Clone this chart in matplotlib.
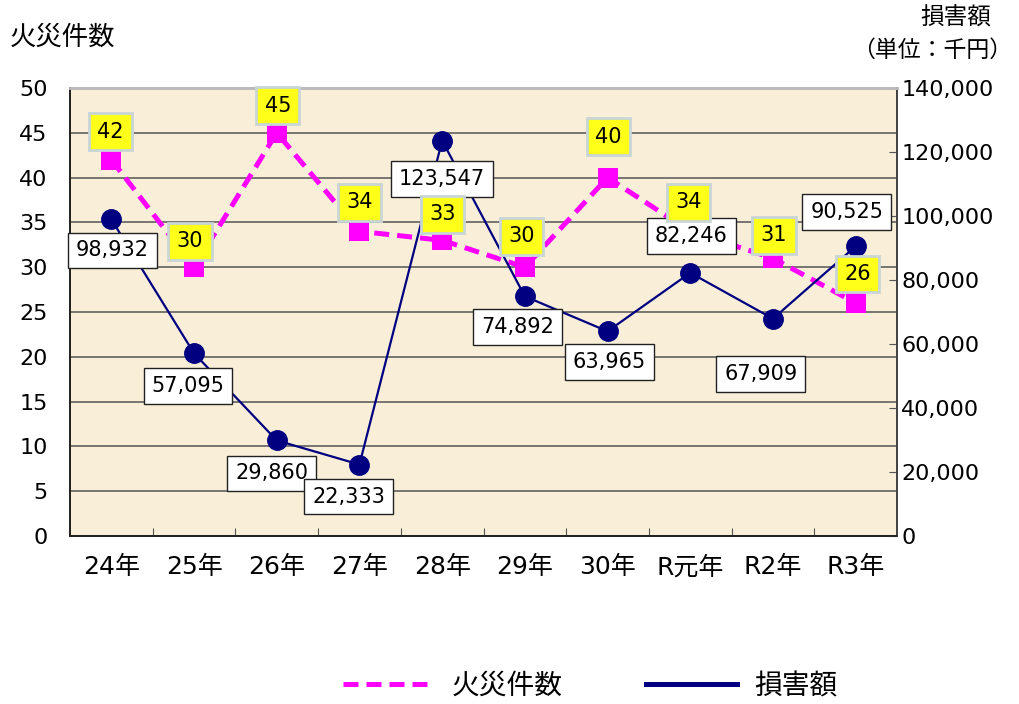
import matplotlib
matplotlib.use("Agg")
import matplotlib.pyplot as plt
from matplotlib.lines import Line2D
from matplotlib.ticker import FuncFormatter, MultipleLocator, FixedLocator

plt.rcParams['font.family'] = ['DejaVu Sans', 'Noto Sans CJK JP']

# data
years = ['24年', '25年', '26年', '27年', '28年', '29年', '30年', 'R元年', 'R2年', 'R3年']
fires = [42, 30, 45, 34, 33, 30, 40, 34, 31, 26]
damage = [98932, 57095, 29860, 22333, 123547, 74892, 63965, 82246, 67909, 90525]

# label offsets (pixels) relative to each marker
fire_off = [(-1, 28), (-4, 26), (1, 27), (0, 29), (0, 26), (-3, 31), (1, 41), (-2, 29), (1, 23), (2, 29)]
dmg_off = [(1, -31), (-6, -33), (-5, -33), (-11, -32), (0, -38), (-7, -31), (2, -31), (1, 37), (-12, -55), (-9, 34)]

magenta = '#FF00FF'
navy = '#000080'

fig = plt.figure(figsize=(10.2, 7.04), dpi=100)
ax = fig.add_axes([70 / 1020, 1 - 536 / 704, 827 / 1020, 448 / 704])
ax2 = ax.twinx()

x = list(range(len(years)))

ax.set_facecolor('#F9EFD9')
ax.set_xlim(-0.5, len(years) - 0.5)
ax.set_ylim(0, 50)
ax.yaxis.set_major_locator(MultipleLocator(5))
ax.grid(axis='y', color='#555555', linewidth=1.1)
ax.set_axisbelow(True)
ax.xaxis.set_major_locator(FixedLocator([i + 0.5 for i in x[:-1]]))
ax.set_xticklabels([])
ax.set_xticks(x, minor=True)
ax.set_xticklabels(years, minor=True)
ax.tick_params(axis='x', which='major', direction='in', length=6, color='#555555')
ax.tick_params(axis='x', which='minor', length=0, labelsize=18, pad=14)
ax.tick_params(axis='y', direction='in', length=0, labelsize=16, pad=16)

ax2.set_ylim(0, 140000)
ax2.yaxis.set_major_locator(MultipleLocator(20000))
ax2.yaxis.set_major_formatter(FuncFormatter(lambda v, p: f'{int(v):,}'))
ax2.tick_params(axis='y', direction='in', length=6, color='#555555', labelsize=16, pad=3)

for a in (ax, ax2):
    a.spines['top'].set_color('#BBBBBB')
    a.spines['top'].set_linewidth(2)
    a.spines['left'].set_color('#222222')
    a.spines['bottom'].set_color('#222222')
    a.spines['right'].set_color('#444444')
    a.spines['left'].set_linewidth(1.3)
    a.spines['bottom'].set_linewidth(1.3)
    a.spines['right'].set_linewidth(1.3)

dash = (0, (3, 1.6))
ax.plot(x, fires, color=magenta, linewidth=3.6, linestyle=dash, marker='s',
        markersize=14, markeredgewidth=0, zorder=3)
ax2.plot(x, damage, color=navy, linewidth=1.6, marker='o', markersize=14, zorder=3)

for i, v in enumerate(damage):
    ax2.annotate(f'{v:,}', (i, v), xytext=dmg_off[i], textcoords='offset pixels',
                 ha='center', va='center', fontsize=15, zorder=5,
                 bbox=dict(boxstyle='square,pad=0.38', fc='white', ec='#222222', lw=1))

for i, v in enumerate(fires):
    ax2.annotate(str(v), (i, v), xycoords=ax.transData, xytext=fire_off[i],
                 textcoords='offset pixels', ha='center', va='center', fontsize=15,
                 zorder=6,
                 bbox=dict(boxstyle='square,pad=0.4', fc='#FFFF1A', ec='#C8D6D6', lw=2))

fig.text(10 / 1020, 1 - 38 / 704, '火災件数', fontsize=19, ha='left', va='center')
fig.text(956 / 1020, 1 - 18 / 704, '損害額', fontsize=17, ha='center', va='center')
fig.text(1012 / 1020, 1 - 50 / 704, '（単位：千円）', fontsize=16.5, ha='right', va='center')

handles = [Line2D([], [], color=magenta, linewidth=3.6, linestyle=dash),
           Line2D([], [], color=navy, linewidth=3.6)]
fig.legend(handles, ['火災件数', '損害額'], loc='center', bbox_to_anchor=(590 / 1020, 1 - 686 / 704),
           ncol=2, frameon=False, fontsize=20, handlelength=3.3, handletextpad=0.6,
           columnspacing=3.0)

fig.savefig('out.png', dpi=100)
